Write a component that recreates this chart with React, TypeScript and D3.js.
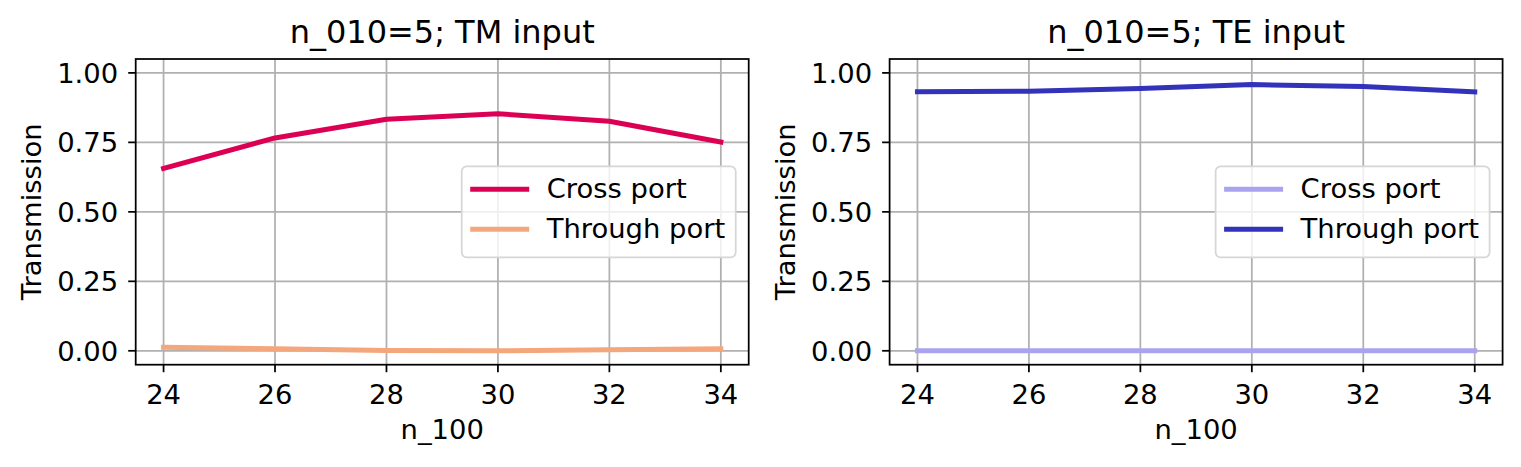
import React, { useEffect, useRef } from 'react';
import * as d3 from 'd3';

const nValues = [24, 26, 28, 30, 32, 34];
const tmCross = [0.656, 0.766, 0.833, 0.853, 0.826, 0.751];
const tmThrough = [0.013, 0.007, 0.001, 0.0, 0.004, 0.007];
const teCross = [0.0, 0.0, 0.0, 0.0, 0.0, 0.0];
const teThrough = [0.932, 0.934, 0.944, 0.958, 0.951, 0.932];
const xTicks = [24, 26, 28, 30, 32, 34];
const yTicks = [0, 0.25, 0.5, 0.75, 1.0];
const seriesNames = ['Cross port', 'Through port'];

interface Panel {
  title: string;
  left: number;
  series: { name: string; values: number[]; color: string }[];
}

const panels: Panel[] = [
  {
    title: 'n_010=5; TM input',
    left: 135.7,
    series: [
      { name: seriesNames[0], values: tmCross, color: '#dc0055' },
      { name: seriesNames[1], values: tmThrough, color: '#f4a77c' },
    ],
  },
  {
    title: 'n_010=5; TE input',
    left: 889.6,
    series: [
      { name: seriesNames[0], values: teCross, color: '#aaa4ee' },
      { name: seriesNames[1], values: teThrough, color: '#3232bb' },
    ],
  },
];

const WIDTH = 1521;
const HEIGHT = 467;
const FONT = '"DejaVu Sans", sans-serif';
const FS = 27.4;

export default function App() {
  const svgRef = useRef<SVGSVGElement>(null);

  useEffect(() => {
    if (!svgRef.current) return;
    const svg = d3.select(svgRef.current);
    svg.selectAll('*').remove();

    const axW = 613;
    const top = 59;
    const bottom = 364.7;
    const lw = 1.75;

    panels.forEach(panel => {
      const x0 = panel.left;
      const x1 = x0 + axW;
      const xScale = d3.scaleLinear().domain([23.5, 34.5]).range([x0, x1]);
      const yScale = d3.scaleLinear().domain([-0.05, 1.05]).range([bottom, top]);

      const g = svg.append('g');

      // Grid
      g.selectAll('.gx')
        .data(xTicks)
        .join('line')
        .attr('x1', d => xScale(d))
        .attr('x2', d => xScale(d))
        .attr('y1', top)
        .attr('y2', bottom)
        .attr('stroke', '#b0b0b0')
        .attr('stroke-width', lw);
      g.selectAll('.gy')
        .data(yTicks)
        .join('line')
        .attr('x1', x0)
        .attr('x2', x1)
        .attr('y1', d => yScale(d))
        .attr('y2', d => yScale(d))
        .attr('stroke', '#b0b0b0')
        .attr('stroke-width', lw);

      // Lines
      const line = d3
        .line<number>()
        .x((_, i) => xScale(nValues[i]))
        .y(d => yScale(d));

      panel.series.forEach(s => {
        g.append('path')
          .datum(s.values)
          .attr('fill', 'none')
          .attr('stroke', s.color)
          .attr('stroke-width', 5)
          .attr('stroke-linecap', 'square')
          .attr('stroke-linejoin', 'round')
          .attr('d', line);
      });

      // Frame
      g.append('rect')
        .attr('x', x0)
        .attr('y', top)
        .attr('width', axW)
        .attr('height', bottom - top)
        .attr('fill', 'none')
        .attr('stroke', '#000')
        .attr('stroke-width', lw);

      // X ticks
      g.selectAll('.tx')
        .data(xTicks)
        .join('line')
        .attr('x1', d => xScale(d))
        .attr('x2', d => xScale(d))
        .attr('y1', bottom)
        .attr('y2', bottom + 7.5)
        .attr('stroke', '#000')
        .attr('stroke-width', lw);
      g.selectAll('.lx')
        .data(xTicks)
        .join('text')
        .attr('x', d => xScale(d))
        .attr('y', 404)
        .attr('text-anchor', 'middle')
        .attr('font-size', FS)
        .attr('font-family', FONT)
        .text(d => String(d));

      // Y ticks
      g.selectAll('.ty')
        .data(yTicks)
        .join('line')
        .attr('x1', x0 - 7.5)
        .attr('x2', x0)
        .attr('y1', d => yScale(d))
        .attr('y2', d => yScale(d))
        .attr('stroke', '#000')
        .attr('stroke-width', lw);
      g.selectAll('.ly')
        .data(yTicks)
        .join('text')
        .attr('x', x0 - 17.5)
        .attr('y', d => yScale(d) + 10)
        .attr('text-anchor', 'end')
        .attr('font-size', FS)
        .attr('font-family', FONT)
        .text(d => d3.format('.2f')(d));

      // Labels
      g.append('text')
        .attr('x', (x0 + x1) / 2)
        .attr('y', 42.7)
        .attr('text-anchor', 'middle')
        .attr('font-size', 32)
        .attr('font-family', FONT)
        .text(panel.title);

      g.append('text')
        .attr('x', (x0 + x1) / 2)
        .attr('y', 439)
        .attr('text-anchor', 'middle')
        .attr('font-size', FS)
        .attr('font-family', FONT)
        .text('n_100');

      g.append('text')
        .attr('transform', `translate(${x0 - 94.5},${(top + bottom) / 2}) rotate(-90)`)
        .attr('text-anchor', 'middle')
        .attr('font-size', FS)
        .attr('font-family', FONT)
        .text('Transmission');

      // Legend (center right)
      const legW = 274;
      const legH = 91;
      const legX = x1 - 13 - legW;
      const legY = (top + bottom) / 2 - legH / 2;
      const legend = g.append('g').attr('transform', `translate(${legX},${legY})`);
      legend
        .append('rect')
        .attr('width', legW)
        .attr('height', legH)
        .attr('rx', 5)
        .attr('fill', 'rgba(255,255,255,0.8)')
        .attr('stroke', '#d6d6d6')
        .attr('stroke-width', lw);

      panel.series.forEach((s, i) => {
        const ly = 23 + i * 40;
        legend
          .append('line')
          .attr('x1', 11)
          .attr('x2', 65)
          .attr('y1', ly)
          .attr('y2', ly)
          .attr('stroke', s.color)
          .attr('stroke-width', 5)
          .attr('stroke-linecap', 'square');
        legend
          .append('text')
          .attr('x', 85)
          .attr('y', ly + 9)
          .attr('font-size', FS)
          .attr('font-family', FONT)
          .text(s.name);
      });
    });
  }, []);

  return (
    <svg
      ref={svgRef}
      width={WIDTH}
      height={HEIGHT}
      style={{ position: 'absolute', left: 0, top: 0, background: '#fff' }}
    />
  );
}
